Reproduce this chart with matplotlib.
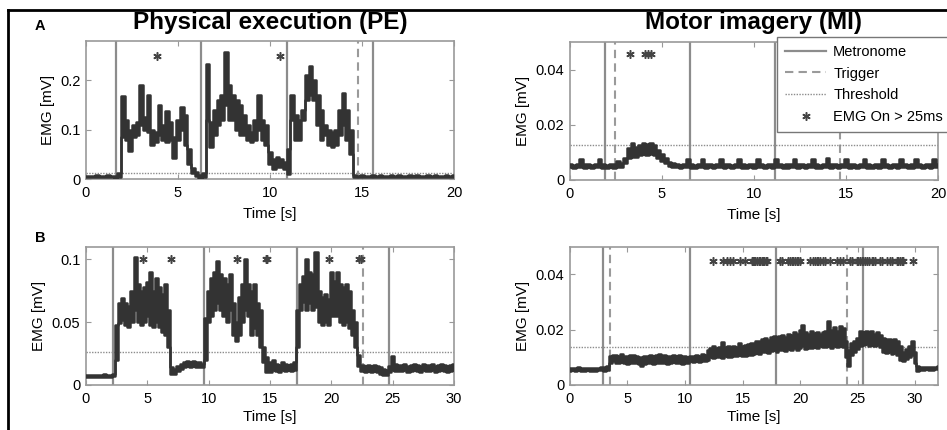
import numpy as np
import matplotlib
matplotlib.use('Agg')
import matplotlib.pyplot as plt
from matplotlib.lines import Line2D
from matplotlib import ticker

plt.rcParams['font.family'] = ['Liberation Sans', 'DejaVu Sans']

# sampling step of the traced EMG envelopes [s]
dt_a = 0.2
dt_b = 0.25

# --- A, physical execution: lower / upper envelope of the EMG [mV]
pe_a_lo = [.004, .004, .005, .004, .005, .004, .005, .004, .003, .004,
           .085, .080, .056, .085, .090, .110, .100, .095, .070, .075,
           .090, .080, .075, .080, .043, .080, .100, .070, .030, .012,
           .006, .003, .004, .120, .065, .090, .110, .120, .150, .120,
           .120, .100, .090, .090, .080, .075, .080, .100, .080, .070,
           .030, .020, .025, .025, .020, .010, .120, .080, .080, .120,
           .160, .170, .160, .110, .080, .090, .070, .065, .070, .090,
           .110, .080, .050, .004,
           .004, .005, .004, .004, .005, .004, .005, .004, .004, .005,
           .004, .005, .004, .004, .005, .004, .005, .004, .004, .005,
           .004, .005, .004, .004, .005, .004, .005]
pe_a_hi = [.007, .007, .007, .008, .007, .007, .008, .007, .006, .012,
           .168, .120, .100, .110, .115, .190, .125, .170, .100, .095,
           .150, .110, .137, .115, .085, .120, .147, .130, .060, .022,
           .015, .008, .012, .233, .115, .140, .160, .170, .257, .190,
           .170, .160, .150, .130, .110, .095, .120, .170, .120, .110,
           .055, .040, .045, .040, .035, .060, .170, .130, .120, .140,
           .210, .230, .200, .170, .140, .110, .100, .095, .100, .140,
           .175, .140, .100, .008,
           .007, .008, .007, .007, .008, .007, .008, .007, .007, .008,
           .007, .008, .007, .007, .009, .007, .008, .007, .007, .008,
           .007, .008, .007, .007, .008, .007, .008]
pe_a_metronome = [1.65, 6.27, 10.9, 15.58]
pe_a_trigger = [14.8]
pe_a_threshold = 0.012
pe_a_on = [3.84, 10.54]
pe_a_on_y = 0.25

# --- A, motor imagery
mi_a_lo = [.0046, .0045, .0046, .0047, .0045, .0046, .0045, .0046, .0047, .0045,
           .0045, .0046, .0045, .0046, .0047, .0060, .0080, .0085, .0085, .0090,
           .0095, .0090, .0095, .0090, .0080, .0070, .0060, .0050, .0048, .0046,
           .0045, .0046, .0047, .0045, .0045, .0046, .0047, .0045, .0046, .0045,
           .0046, .0047, .0045, .0046, .0045, .0046, .0047, .0045, .0045, .0046,
           .0045, .0047, .0046, .0045, .0046, .0045, .0047, .0046, .0045, .0045,
           .0046, .0047, .0045, .0046, .0045, .0046, .0047, .0045, .0045, .0046,
           .0048, .0045, .0046, .0045, .0046, .0047, .0045, .0046, .0045, .0046,
           .0047, .0045, .0045, .0046, .0045, .0047, .0046, .0045, .0046, .0045,
           .0047, .0046, .0045, .0045, .0047, .0046, .0045, .0046, .0045, .0047,
           .0046]
mi_a_hi = [.0058, .0056, .0058, .0076, .0057, .0058, .0056, .0058, .0076, .0057,
           .0056, .0058, .0057, .0070, .0060, .0080, .0115, .0135, .0120, .0125,
           .0135, .0130, .0135, .0125, .0110, .0095, .0080, .0065, .0060, .0058,
           .0056, .0058, .0076, .0057, .0056, .0058, .0076, .0057, .0058, .0056,
           .0058, .0076, .0057, .0058, .0056, .0058, .0076, .0057, .0056, .0058,
           .0057, .0076, .0058, .0056, .0058, .0057, .0076, .0058, .0056, .0057,
           .0058, .0076, .0057, .0058, .0056, .0058, .0076, .0057, .0056, .0058,
           .0080, .0057, .0058, .0056, .0058, .0076, .0057, .0058, .0056, .0058,
           .0076, .0057, .0056, .0058, .0057, .0076, .0058, .0056, .0058, .0057,
           .0076, .0058, .0056, .0057, .0076, .0058, .0056, .0058, .0057, .0076,
           .0058]
mi_a_metronome = [1.9, 6.52, 11.14]
mi_a_trigger = [2.45, 14.67]
mi_a_threshold = 0.0127
mi_a_on = [3.26, 4.1, 4.25, 4.4]
mi_a_on_y = 0.0455

# --- B, physical execution
pe_b_lo = [.006, .006, .006, .006, .006, .006, .006, .006, .006, .007,
           .020, .049, .052, .048, .046, .050, .060, .050, .048, .050,
           .055, .048, .046, .050, .046, .042, .040, .030,
           .009, .009, .011, .013, .014, .015, .014, .015, .014, .014, .014,
           .020, .050, .055, .060, .065, .060, .055, .050, .060, .040,
           .035, .040, .050, .060, .055, .040, .045, .040, .030, .018, .010,
           .010, .012, .011, .010, .012, .011, .012, .011, .012,
           .030, .060, .066, .060, .065, .060, .062, .050, .048, .050,
           .048, .055, .055, .055, .050, .048, .050, .045, .040, .030, .015,
           .011, .010, .011, .010, .011, .010, .009, .008, .008, .010,
           .012, .011, .011,
           .011, .012, .010, .011, .012, .011, .010, .012, .011, .011,
           .012, .010, .011, .012, .011, .010, .011, .012]
pe_b_hi = [.008, .008, .008, .008, .008, .008, .009, .008, .008, .009,
           .048, .065, .069, .065, .063, .075, .102, .080, .075, .078,
           .082, .090, .075, .085, .078, .072, .080, .060,
           .014, .013, .015, .017, .018, .019, .018, .019, .018, .018, .017,
           .053, .075, .085, .090, .099, .088, .085, .080, .088, .065,
           .050, .070, .080, .100, .080, .075, .080, .065, .060, .030, .022,
           .018, .020, .017, .016, .018, .017, .016, .017, .018,
           .060, .080, .087, .100, .090, .088, .106, .075, .070, .072,
           .068, .090, .083, .090, .080, .078, .080, .075, .060, .050, .024,
           .016, .015, .016, .015, .016, .015, .014, .013, .012, .015,
           .023, .017, .016,
           .016, .017, .015, .016, .017, .016, .015, .017, .016, .016,
           .017, .015, .016, .017, .016, .015, .016, .017]
pe_b_metronome = [2.23, 9.62, 17.17, 24.68]
pe_b_trigger = [22.55]
pe_b_threshold = 0.026
pe_b_on = [4.62, 6.9, 12.28, 14.65, 14.78, 19.82, 22.25, 22.38]
pe_b_on_y = 0.1

# --- B, motor imagery
mi_b_lo = [.0052, .0053, .0052, .0054, .0052, .0051, .0053, .0052, .0051, .0052,
           .0053, .0054, .0052, .0055,
           .0080, .0085, .0080, .0078, .0082, .0080, .0077, .0079, .0081, .0078,
           .0075, .0070, .0076, .0078, .0080, .0077, .0079, .0081, .0078, .0080,
           .0077, .0079, .0082, .0078, .0080, .0077, .0078,
           .0080, .0085, .0082, .0086, .0084, .0088, .0086, .0090,
           .0100, .0098, .0102, .0100, .0096, .0104, .0102, .0100, .0106, .0104,
           .0108, .0106, .0104, .0110, .0108, .0112,
           .0115, .0112, .0118, .0120, .0116, .0122, .0125,
           .0120, .0125, .0128, .0122, .0130, .0126, .0132, .0128, .0134,
           .0140,
           .0130, .0135, .0132, .0138, .0134, .0140, .0136, .0138,
           .0140,
           .0135, .0140, .0138, .0142, .0136,
           .0100, .0068, .0110, .0120, .0130,
           .0140, .0145, .0148, .0142, .0146, .0140, .0144, .0138,
           .0120, .0115, .0118, .0112, .0116, .0110,
           .0090, .0085, .0095, .0100, .0110, .0080,
           .0050,
           .0055, .0054, .0056, .0055, .0054, .0056, .0058]
mi_b_hi = [.0062, .0063, .0062, .0066, .0062, .0061, .0063, .0062, .0061, .0062,
           .0063, .0065, .0064, .0068,
           .0105, .0110, .0108, .0105, .0112, .0106, .0104, .0108, .0110, .0105,
           .0102, .0100, .0104, .0106, .0108, .0104, .0107, .0112, .0105, .0108,
           .0104, .0106, .0110, .0105, .0107, .0104, .0106,
           .0100, .0105, .0104, .0108, .0106, .0112, .0110, .0125,
           .0135, .0140, .0132, .0138, .0157, .0136, .0140, .0135, .0142, .0138,
           .0150, .0140, .0145, .0148, .0152, .0150,
           .0160, .0158, .0165, .0170, .0162, .0175, .0178,
           .0170, .0178, .0182, .0175, .0186, .0180, .0190, .0185, .0200,
           .0218,
           .0190, .0185, .0195, .0188, .0192, .0186, .0190, .0195,
           .0230,
           .0200, .0210, .0195, .0212, .0205,
           .0160, .0125, .0150, .0160, .0170,
           .0196, .0192, .0196, .0188, .0194, .0185, .0190, .0182,
           .0170, .0165, .0168, .0160, .0165, .0158,
           .0140, .0120, .0130, .0140, .0160, .0120,
           .0070,
           .0065, .0064, .0066, .0065, .0064, .0066, .0068]
mi_b_metronome = [2.9, 10.43, 17.9, 25.45]
mi_b_trigger = [3.48, 24.06]
mi_b_threshold = 0.0139
mi_b_on = [12.46, 13.33, 13.62, 13.9, 14.2, 14.78, 15.22, 15.8, 15.9, 16.0,
           16.1, 16.23, 16.4, 16.5, 16.67, 16.8, 16.9, 17.0, 17.1, 18.26,
           18.4, 18.99, 19.13, 19.3, 19.42, 19.57, 19.7, 19.86, 20.0, 20.87,
           21.16, 21.3, 21.45, 21.6, 21.74, 22.03, 22.17, 22.6, 23.19, 23.48,
           23.77, 24.35, 24.5, 24.93, 25.05, 25.22, 25.36, 25.5, 25.65, 25.8,
           26.0, 26.23, 26.38, 26.52, 26.96, 27.1, 27.54, 27.83, 27.97, 28.41,
           28.55, 28.7, 28.84, 28.99, 29.86]
mi_b_on_y = 0.045

EMG_C = '#333333'
MET_C = '#8c8c8c'
TRIG_C = '#9a9a9a'
STAR_M = (6, 2, 0)

W, H = 947, 430
fig = plt.figure(figsize=(W / 100, H / 100), dpi=100)


def panel(rect, lo, hi, dt, met, trig, thr, on, on_y, xlim, ylim, xt, yt, xlab_y):
    ax = fig.add_axes(rect)
    t = np.arange(len(lo)) * dt
    ax.fill_between(t, lo, hi, step='mid', color=EMG_C, lw=0, zorder=3)
    ax.plot(t, lo, drawstyle='steps-mid', color=EMG_C, lw=1.8, zorder=3)
    ax.plot(t, hi, drawstyle='steps-mid', color=EMG_C, lw=1.8, zorder=3)
    for x in met:
        ax.axvline(x, color=MET_C, lw=1.6, zorder=2)
    for x in trig:
        ax.axvline(x, color=TRIG_C, lw=1.5, ls=(0, (4, 2.5)), zorder=2)
    ax.axhline(thr, color=MET_C, lw=1.0, ls=(0, (1, 1)), zorder=2)
    ax.plot(on, [on_y] * len(on), ls='none', marker=STAR_M, ms=6, mew=1.1,
            color='#444444', zorder=4)
    ax.set_xlim(*xlim)
    ax.set_ylim(*ylim)
    ax.set_xticks(xt)
    ax.set_yticks(yt)
    ax.yaxis.set_major_formatter(ticker.FormatStrFormatter('%g'))
    ax.tick_params(direction='in', top=True, right=True, length=3.5,
                   color='#999999', labelsize=10.5)
    ax.tick_params(axis='x', pad=5)
    ax.tick_params(axis='y', pad=4)
    for s in ax.spines.values():
        s.set_color('#999999')
        s.set_linewidth(1.2)
    ax.set_xlabel('Time [s]', fontsize=11)
    ax.set_ylabel('EMG [mV]', fontsize=11, labelpad=4)
    ax.xaxis.set_label_coords(0.5, xlab_y)
    return ax


ax1 = panel([0.0908, 0.5837, 0.3886, 0.321], pe_a_lo, pe_a_hi, dt_a,
            pe_a_metronome, pe_a_trigger, pe_a_threshold, pe_a_on, pe_a_on_y,
            (0, 20), (0, 0.28), [0, 5, 10, 15, 20], [0, 0.1, 0.2], -0.2)
ax2 = panel([0.6019, 0.5814, 0.3886, 0.321], mi_a_lo, mi_a_hi, dt_a,
            mi_a_metronome, mi_a_trigger, mi_a_threshold, mi_a_on, mi_a_on_y,
            (0, 20), (0, 0.05), [0, 5, 10, 15, 20], [0, 0.02, 0.04], -0.2)
ax3 = panel([0.0908, 0.1047, 0.3886, 0.3216], pe_b_lo, pe_b_hi, dt_b,
            pe_b_metronome, pe_b_trigger, pe_b_threshold, pe_b_on, pe_b_on_y,
            (0, 30), (0, 0.11), [0, 5, 10, 15, 20, 25, 30], [0, 0.05, 0.1], -0.18)
ax4 = panel([0.6019, 0.1047, 0.3886, 0.3216], mi_b_lo, mi_b_hi, dt_b,
            mi_b_metronome, mi_b_trigger, mi_b_threshold, mi_b_on, mi_b_on_y,
            (0, 32), (0, 0.05), [0, 5, 10, 15, 20, 25, 30], [0, 0.02, 0.04], -0.18)

fig.text(0.285, 1 - 23 / H, 'Physical execution (PE)', ha='center', va='center',
         fontsize=17.5, fontweight='bold')
fig.text(0.796, 1 - 23 / H, 'Motor imagery (MI)', ha='center', va='center',
         fontsize=17.5, fontweight='bold')
fig.text(40 / W, 1 - 26 / H, 'A', ha='center', va='center', fontsize=10.5,
         fontweight='bold')
fig.text(40 / W, 1 - 238 / H, 'B', ha='center', va='center', fontsize=10.5,
         fontweight='bold')

handles = [Line2D([], [], color=MET_C, lw=1.6),
           Line2D([], [], color=TRIG_C, lw=1.5, ls=(0, (4, 2.5))),
           Line2D([], [], color=MET_C, lw=1.0, ls=(0, (1, 1))),
           Line2D([], [], ls='none', marker=STAR_M, ms=6, mew=1.1, color='#444444')]
labels = ['Metronome', 'Trigger', 'Threshold', 'EMG On > 25ms']
leg = fig.legend(handles, labels, loc='upper right',
                 bbox_to_anchor=(951 / W, 1 - 37 / H), fontsize=10.5,
                 frameon=True, fancybox=False, framealpha=1, edgecolor='#777777',
                 handlelength=2.8, handletextpad=0.5, labelspacing=0.52,
                 borderpad=0.55, borderaxespad=0)
leg.get_frame().set_linewidth(1.0)

# black frame around the figure
fig.add_artist(Line2D([8 / W, 1], [1 - 10 / H, 1 - 10 / H], color='black', lw=2))
fig.add_artist(Line2D([8 / W, 8 / W], [0, 1 - 10 / H], color='black', lw=2))

fig.savefig('out.png', dpi=100)
